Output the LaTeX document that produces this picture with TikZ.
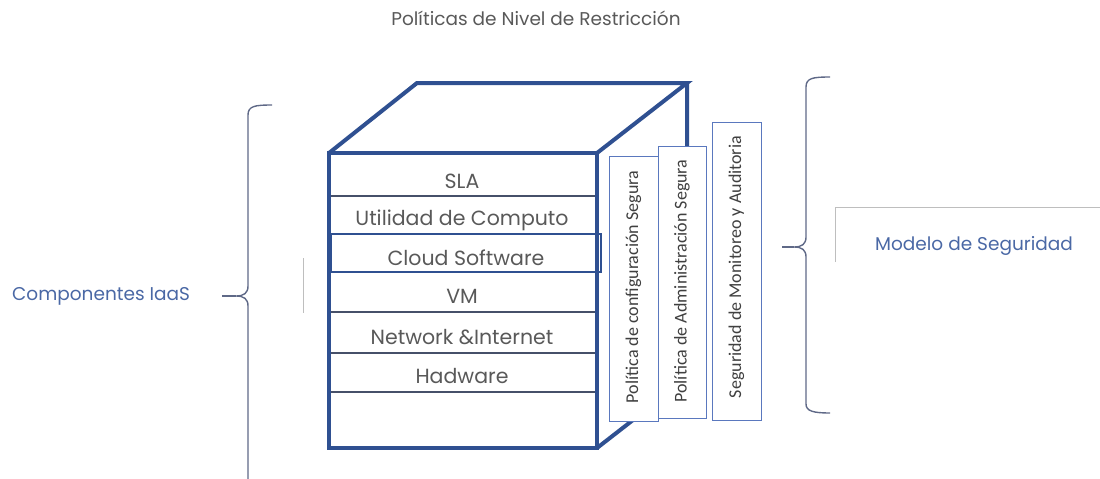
\documentclass[tikz,border=0pt]{standalone}
\usepackage{fontspec}
\setmainfont{Poppins}
\newfontfamily\calib{Carlito}
\definecolor{cubeblue}{RGB}{47,80,145}
\definecolor{panelblue}{RGB}{90,120,190}
\definecolor{rowline}{RGB}{70,80,105}
\definecolor{txtgray}{RGB}{89,89,89}
\definecolor{lblblue}{RGB}{74,104,165}
\definecolor{bracec}{RGB}{95,105,135}
\definecolor{lightg}{RGB}{190,190,190}
\tikzset{
  cube/.style={draw=cubeblue, line width=4pt, line join=miter},
  rowsep/.style={draw=rowline, line width=1.3pt},
  layer/.style={text=txtgray, font=\fontsize{20.5}{24}\selectfont, inner sep=0pt},
  panel/.style={draw=panelblue, line width=1pt, fill=white},
  ptext/.style={rotate=90, text=black!75, font=\calib\fontsize{18}{21}\selectfont, inner sep=0pt},
  lbl/.style={text=lblblue, font=\fontsize{18.5}{22}\selectfont, inner sep=0pt},
  brace/.style={draw=bracec, line width=1.4pt},
}
\begin{document}
\begin{tikzpicture}[x=1pt,y=-1pt]
\useasboundingbox (0,0) rectangle (1100,479);
% title
\node[text=txtgray, font=\fontsize{18.5}{22}\selectfont, inner sep=0pt] (title) at (536,18) {Políticas de Nivel de Restricción};
% cube
\draw[cube] (329,153) -- (417,83) -- (687,83) -- (597,153);
\draw[cube] (687,83) -- (687,378) -- (597,448);
\draw[cube] (329,153) rectangle (597,448);
% rows
\foreach \yy in {196,234,312,353,392} \draw[rowsep] (331,\yy) -- (595,\yy);
\draw[draw=cubeblue, line width=1.3pt] (331,234) rectangle (601,272);
\node[layer] (sla) at (462,181) {SLA};
\node[layer] (util) at (462,220) {Utilidad de Computo};
\node[layer] (cloud) at (466,258) {Cloud Software};
\node[layer] (vm) at (462,296) {VM};
\node[layer] (net) at (462,337) {Network \&Internet};
\node[layer] (hw) at (462,376) {Hadware};
% panels
\draw[panel] (609,156) rectangle (658,421);
\node[ptext] (p1) at (633.5,287) {Política de configuración Segura};
\draw[panel] (658,146) rectangle (706,418);
\node[ptext] (p2) at (682,281) {Política de Administración Segura};
\draw[panel] (712,122) rectangle (761,420);
\node[ptext] (p3) at (736.5,267) {Seguridad de Monitoreo y Auditoria};
% left brace
\coordinate (lt) at (236,296);
\draw[brace] (272,105) .. controls (255,105) and (248,106) .. (248,115) -- (248,286) .. controls (248,293) and (244,296) .. (lt) .. controls (244,296) and (248,299) .. (248,306) -- (248,479);
\node[lbl, anchor=west] (comp) at (12,296) {Componentes IaaS};
\draw[brace] (222,296) -- (lt);
\draw[lightg, line width=1pt] (303,258) -- (303,313);
% right brace
\coordinate (rt) at (794,247);
\draw[brace] (830,77) .. controls (813,77) and (806,78) .. (806,87) -- (806,237) .. controls (806,244) and (802,247) .. (rt) .. controls (802,247) and (806,250) .. (806,257) -- (806,404) .. controls (806,411) and (813,413) .. (830,413);
\draw[brace] (782,247) -- (rt);
\draw[lightg, line width=1pt] (835,262) -- (835,207) -- (1100,207);
\node[lbl] (modelo) at (974,246) {Modelo de Seguridad};
\end{tikzpicture}
\end{document}
